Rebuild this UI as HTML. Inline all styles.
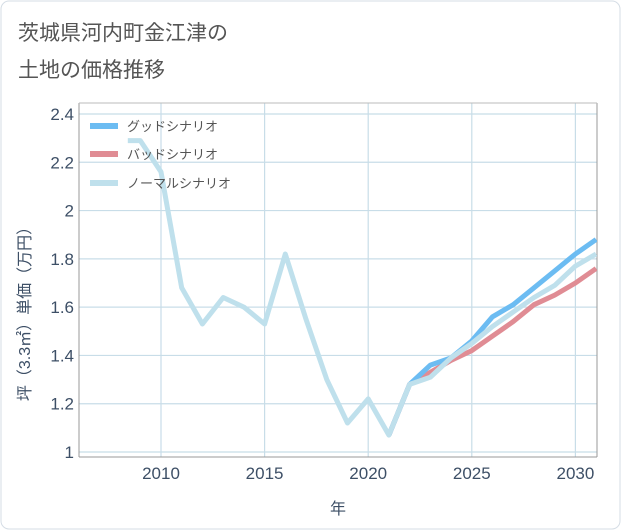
<!DOCTYPE html>
<html><head><meta charset="utf-8"><style>
body{margin:0;background:#fff;font-family:"Liberation Sans","Noto Sans CJK JP",sans-serif;}
#wrap{position:relative;width:621px;height:530px;background:#fff;}
</style></head><body>
<div id="wrap">
<svg id="chart" width="621" height="530" style="position:absolute;left:0;top:0">
<rect x="1" y="1" width="619" height="528" rx="8" fill="#fff" stroke="#d5dde5"/>
<text x="18" y="40" font-size="21" fill="#555">茨城県河内町金江津の</text>
<text x="18" y="77" font-size="21" fill="#555">土地の価格推移</text>
<g id="grid"></g><g id="lines"></g>
<text x="338" y="514" font-size="16" fill="#3d4f66" text-anchor="middle">年</text>
<text transform="translate(30,310) rotate(-90)" font-size="16" fill="#3d4f66" text-anchor="middle">坪（3.3㎡）単価（万円）</text>
<g>
<rect x="90" y="123" width="28" height="6" fill="#6cbcf2"/>
<text x="127" y="131" font-size="13" fill="#555">グッドシナリオ</text>
<rect x="90" y="151" width="28" height="6" fill="#e08c94"/>
<text x="127" y="159" font-size="13" fill="#555">バッドシナリオ</text>
<rect x="90" y="180" width="28" height="6" fill="#bfe0ec"/>
<text x="127" y="188" font-size="13" fill="#555">ノーマルシナリオ</text>
</g>
</svg>
</div>
<script>
const normalYears=[2008.4,2009,2010,2011,2012,2013,2014,2015,2016,2017,2018,2019,2020,2021,2022,2023,2024,2025,2026,2027,2028,2029,2030,2031];
const normalValues=[2.29,2.29,2.16,1.68,1.53,1.64,1.60,1.53,1.82,1.55,1.30,1.12,1.22,1.07,1.28,1.31,1.39,1.45,1.52,1.58,1.64,1.69,1.77,1.82];
const scenYears=[2021,2022,2023,2024,2025,2026,2027,2028,2029,2030,2031];
const goodValues=[1.07,1.28,1.36,1.39,1.46,1.56,1.61,1.68,1.75,1.82,1.88];
const badValues=[1.07,1.28,1.33,1.38,1.42,1.48,1.54,1.61,1.65,1.70,1.76];
const xTicks=[2010,2015,2020,2025,2030];
const yTicks=[1,1.2,1.4,1.6,1.8,2,2.2,2.4];
const L=79,R=597,T=103,B=457,Y0=1,Y1=2.4,YB=452,YT=114;
const sx=v=>161+(v-2010)*20.72;
const sy=v=>YB-(v-Y0)/(Y1-Y0)*(YB-YT);
const NS="http://www.w3.org/2000/svg";
const grid=document.getElementById('grid'),lines=document.getElementById('lines');
function mk(tag,attrs,parent){const e=document.createElementNS(NS,tag);for(const k in attrs)e.setAttribute(k,attrs[k]);parent.appendChild(e);return e;}
yTicks.forEach(v=>{
 const l=mk('line',{x1:L,x2:R,y1:sy(v),y2:sy(v),stroke:'#c8dde8','stroke-width':1.2},grid);
 
 
 const t=mk('text',{x:74,y:sy(v)+6,'font-size':17,fill:'#3d4f66','text-anchor':'end'},grid);
 t.textContent=String(v);
 
 
});
xTicks.forEach(v=>{
 const l=mk('line',{x1:sx(v),x2:sx(v),y1:T,y2:B,stroke:'#c8dde8','stroke-width':1.2},grid);
 
 
 const t=mk('text',{x:sx(v),y:479,'font-size':17,fill:'#3d4f66','text-anchor':'middle'},grid);
 t.textContent=String(v);
 
 
});
mk('line',{x1:L,x2:L,y1:T,y2:B,stroke:'#999','stroke-width':1},grid);
mk('line',{x1:L,x2:R,y1:B,y2:B,stroke:'#999','stroke-width':1},grid);
mk('line',{x1:R,x2:R,y1:T,y2:B,stroke:'#999','stroke-width':1},grid);
mk('line',{x1:L,x2:R,y1:T,y2:T,stroke:'#bbb','stroke-width':1},grid);
function pts(xs,ys){return xs.map((x,i)=>sx(x).toFixed(1)+','+sy(ys[i]).toFixed(1)).join(' ');}
const cp=mk('clipPath',{id:'cp'},lines);mk('rect',{x:L,y:T,width:R-L,height:B-T},cp);
const g=mk('g',{'clip-path':'url(#cp)'},lines);
const bad=mk('polyline',{points:pts(scenYears,badValues),fill:'none',stroke:'#e08c94','stroke-width':5,'stroke-linejoin':'round'},g);


const good=mk('polyline',{points:pts(scenYears,goodValues),fill:'none',stroke:'#6cbcf2','stroke-width':5,'stroke-linejoin':'round'},g);


const nor=mk('polyline',{points:pts(normalYears,normalValues),fill:'none',stroke:'#bfe0ec','stroke-width':5,'stroke-linejoin':'round'},g);


</script>
</body></html>
